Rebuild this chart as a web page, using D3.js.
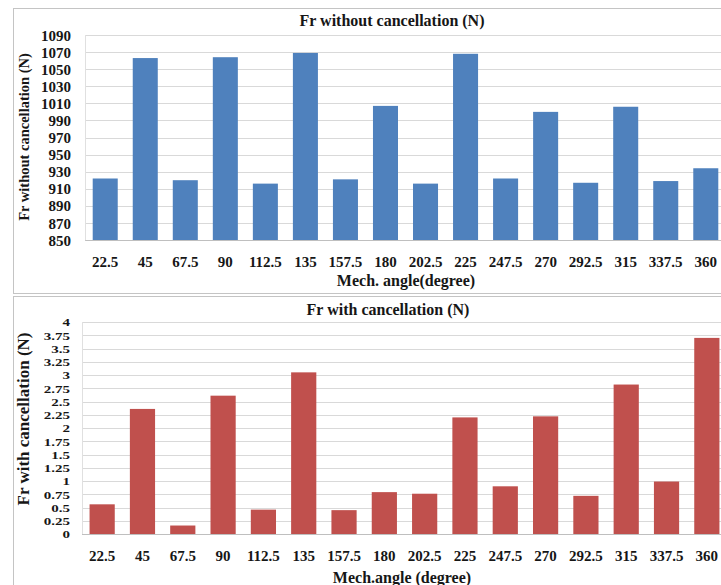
<!DOCTYPE html>
<html>
<head>
<meta charset="utf-8">
<script src="https://cdn.jsdelivr.net/npm/d3@7"></script>
<style>
  body { margin: 0; background: #fff; }
  svg text { font-family: "Liberation Serif", "Times New Roman", serif; font-weight: bold; fill: #161616; }
</style>
</head>
<body>
<svg id="chart" width="721" height="585"></svg>
<script>
// Mechanical angle categories (degrees)
const angles = ["22.5", "45", "67.5", "90", "112.5", "135", "157.5", "180",
                "202.5", "225", "247.5", "270", "292.5", "315", "337.5", "360"];

// Radial force without cancellation (N)
const frWithout = [922, 1063, 920, 1064, 916, 1069, 921, 1007,
                   916, 1068, 922, 1000, 917, 1006, 919, 934];

// Radial force with cancellation (N)
const frWith = [0.56, 2.36, 0.16, 2.61, 0.46, 3.05, 0.45, 0.79,
                0.76, 2.20, 0.90, 2.22, 0.72, 2.82, 0.99, 3.70];

const ticksWithout = [850, 870, 890, 910, 930, 950, 970, 990, 1010, 1030, 1050, 1070, 1090];
const ticksWith = [0, 0.25, 0.5, 0.75, 1, 1.25, 1.5, 1.75, 2, 2.25, 2.5, 2.75, 3, 3.25, 3.5, 3.75, 4];

const FONT = "'Liberation Serif', 'Times New Roman', serif";

const svg = d3.select("#chart");
svg.append("rect").attr("width", 721).attr("height", 585).attr("fill", "#fff");

function drawPanel(p) {
  const g = svg.append("g");

  // panel frame
  g.append("rect")
    .attr("x", p.box[0] + 0.5).attr("y", p.box[1] + 0.5)
    .attr("width", p.box[2]).attr("height", p.box[3])
    .attr("fill", "#fff").attr("stroke", "#c4c4c4").attr("stroke-width", 1);

  const x = d3.scaleBand().domain(angles).range(p.xRange)
    .paddingInner(0.375).paddingOuter(0.1875);
  const y = d3.scaleLinear().domain(p.domain).range(p.yRange);

  // horizontal gridlines
  g.append("g")
    .selectAll("line").data(p.ticks).join("line")
    .attr("x1", p.xRange[0]).attr("x2", p.xRange[1])
    .attr("y1", d => Math.round(y(d)) + 0.5).attr("y2", d => Math.round(y(d)) + 0.5)
    .attr("stroke", "#d9d9d9").attr("stroke-width", 1);

  // left edge of the plot area
  g.append("line")
    .attr("x1", Math.round(p.xRange[0]) + 0.5).attr("x2", Math.round(p.xRange[0]) + 0.5)
    .attr("y1", p.yRange[0]).attr("y2", p.yRange[1])
    .attr("stroke", "#e0e0e0");

  // bars
  g.append("g")
    .selectAll("rect").data(p.values).join("rect")
    .attr("x", (d, i) => x(angles[i]))
    .attr("width", x.bandwidth())
    .attr("y", d => y(d))
    .attr("height", d => y(p.domain[0]) - y(d))
    .attr("fill", p.color);

  // category axis line
  g.append("line")
    .attr("x1", p.xRange[0]).attr("x2", p.xRange[1])
    .attr("y1", Math.round(y(p.domain[0])) + 0.5).attr("y2", Math.round(y(p.domain[0])) + 0.5)
    .attr("stroke", "#bfbfbf");

  // value axis labels
  const yAxis = g.append("g")
    .attr("transform", `translate(${p.yLabelX},0)`)
    .call(d3.axisLeft(y).tickValues(p.ticks).tickSize(0).tickPadding(0).tickFormat(d => String(d)));
  yAxis.attr("font-family", FONT);
  yAxis.select(".domain").remove();
  yAxis.selectAll("text")
    .attr("font-size", 15).attr("dy", "0.34em")
    .attr("transform", `scale(1,${p.yLabelSquash})`);

  // category axis labels
  const xAxis = g.append("g")
    .attr("transform", `translate(0,${p.xLabelY})`)
    .call(d3.axisBottom(x).tickSize(0).tickPadding(0));
  xAxis.attr("font-family", FONT);
  xAxis.select(".domain").remove();
  xAxis.selectAll("text").attr("font-size", 15).attr("dy", "0.34em");

  // chart title
  g.append("text").attr("x", p.title[1]).attr("y", p.title[2])
    .attr("text-anchor", "middle").attr("dominant-baseline", "central")
    .attr("font-size", 16).text(p.title[0]);

  // category axis title
  g.append("text").attr("x", p.xTitle[1]).attr("y", p.xTitle[2])
    .attr("text-anchor", "middle").attr("dominant-baseline", "central")
    .attr("font-size", 16).text(p.xTitle[0]);

  // value axis title
  g.append("text")
    .attr("transform", `translate(${p.yTitle[1]},${p.yTitle[2]}) rotate(-90)`)
    .attr("text-anchor", "middle").attr("dominant-baseline", "central")
    .attr("font-size", p.yTitle[3]).text(p.yTitle[0]);
}

drawPanel({
  box: [13, 8, 720, 285],
  xRange: [85.2, 725.8],
  yRange: [240, 35],
  domain: [850, 1090],
  ticks: ticksWithout,
  values: frWithout,
  color: "#4f81bd",
  yLabelX: 71,
  yLabelSquash: 1,
  xLabelY: 262,
  title: ["Fr without cancellation (N)", 392, 20],
  xTitle: ["Mech. angle(degree)", 406, 280],
  yTitle: ["Fr without cancellation (N)", 24, 137, 14.5]
});

drawPanel({
  box: [13, 296, 720, 300],
  xRange: [82, 727],
  yRange: [534, 322],
  domain: [0, 4],
  ticks: ticksWith,
  values: frWith,
  color: "#c0504d",
  yLabelX: 70,
  yLabelSquash: 0.76,
  xLabelY: 556,
  title: ["Fr with cancellation (N)", 388, 309],
  xTitle: ["Mech.angle (degree)", 402, 577],
  yTitle: ["Fr with cancellation (N)", 23, 419, 17]
});
</script>
</body>
</html>
